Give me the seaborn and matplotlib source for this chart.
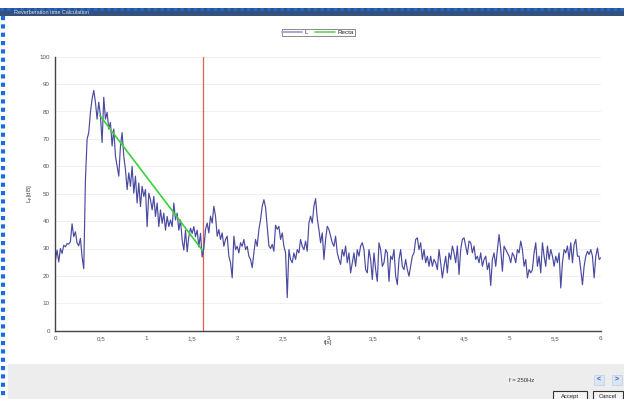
import numpy as np
import pandas as pd
import matplotlib
matplotlib.use("Agg")
import matplotlib.pyplot as plt
from matplotlib.patches import Rectangle
from matplotlib.lines import Line2D
from matplotlib.ticker import MultipleLocator, FuncFormatter
import seaborn as sns

sns.set_style("white")
plt.rcParams['font.family'] = ['Liberation Sans', 'DejaVu Sans']

# Level trace (dB), evenly spaced over 0..6 s
lp_onset = [25.7, 29.4, 25.1, 30, 28.2, 31.2, 30.6, 31.8, 31.6, 32.5,
            39, 34.3, 36.1, 32, 31, 33.7, 26.9, 22.6, 55, 69.9,
            72.3, 79.7, 84.6, 87.7, 83.4, 77.2, 83.4, 78.5, 68.7, 85.2,
            77.2, 79.7, 73.6, 76, 67.4, 73.6, 63.7, 60, 56.4, 67.4,
            72.3, 63.7, 58.8, 51.5, 57.6, 52.7, 60, 50.2, 56.4, 46.6,
            53.9, 45.3, 52.7, 49, 51.5, 38, 50.2, 47.8, 44.1, 49,
            41.7, 46.6, 38, 44.1, 39.2, 42.9, 36.7, 41.7, 38, 40.4,
            38, 46.6, 40.4, 42.9, 36.7, 40.4, 33.1, 29.4, 36.7, 28.8,
            34.3, 37.4, 35.5, 38, 34.3, 36.7, 30.6, 35.5, 26.9]
lp_mid = [30, 36.9, 39.3, 35.7, 41.8, 39.3, 45.4, 41.8, 34.5, 36.9,
          33.3, 35.7, 30.8, 33.3, 34.5, 27.2, 24.8, 19.3, 34.5, 29.6,
          30.8, 28.4, 32.1, 30.8, 33.3, 29.6, 30.8, 27.2, 26, 23,
          28.4, 33.3, 30.8, 36.9, 40.5, 45.4, 47.8, 45, 38, 31,
          30, 31.5, 29, 38.5, 37, 38.1, 33.3, 35.7, 30.8, 28.4,
          12.1, 29.6, 26, 24.8, 28.4, 26, 29.6, 28.4, 33.3, 30.8,
          29.6, 32.7, 29, 39.3, 41.8, 39.3, 45.4, 48.2, 41, 36.9,
          32.1, 35.7, 26, 33.3, 38.1, 36.9, 34.5, 32.1, 30.8, 34.5,
          28.4, 26, 24.2]
lp_tail1 = [29.6, 27.2, 30.9, 24.8, 28.4, 21.1, 24.8, 28.4, 23.5, 29.6,
            27.2, 30.9, 32.1, 29.6, 22.3, 21.1, 29.6, 26, 18.7, 28.4,
            22.3, 18, 32.1, 29.6, 23.5, 24.8, 29.6, 28.4, 18, 27.2,
            26, 29.6, 19.9, 16.8, 26, 29.6, 23.5, 22.3, 26, 22.3,
            19.9, 23.5, 27.2, 28.4, 33.3, 33.9, 29.6, 32.1, 26, 29.6,
            24.8, 27.2, 23.5, 27.2, 23.5, 26, 24.8, 22.3, 29.6, 24.8,
            19.3, 23.5, 27.2, 21.1, 28.4, 26, 30.9, 28.4, 24.8, 30.9,
            20.5, 29.6, 33.3, 33.9, 30.9, 27.8, 32.7, 32.1]
lp_tail2 = [28.4, 30.9, 26, 27.2, 24.8, 28.4, 23.5, 26, 27.2, 22.3,
            24.8, 16.5, 26, 28.4, 23.5, 29.6, 35.1, 29.6, 21.7, 30.9,
            29.6, 28.4, 27.2, 24.8, 28.4, 27.2, 24.8, 29.6, 28.4, 32.7,
            29.6, 23.5, 26, 19.3, 22.3, 21.1, 22.3, 28.4, 32.1, 23.5,
            27.2, 21.1, 32.1, 27.2, 23.5, 30.9, 26, 29.6, 27.2, 23.5,
            27.2, 24.8, 28.4, 15.6, 24.8, 29.6, 28.4, 30.9, 26, 32.1,
            24.8, 31.5, 33.3, 27.2, 27.2, 22.3, 16.8, 23.5, 27.2, 29,
            27.8, 29.6, 27.2, 19.3, 27.2, 30.2, 26, 26.6]
lp_db = lp_onset + lp_mid + lp_tail1 + lp_tail2
t_start, t_end = 0.0, 6.0

# Regression line ("Recta") and the cursor
recta_t = [0.49, 1.62]
recta_db = [78.5, 29.2]
cursor_t = 1.62

x_ticks = [0, 0.5, 1, 1.5, 2, 2.5, 3, 3.5, 4, 4.5, 5, 5.5, 6]
y_ticks = [0, 10, 20, 30, 40, 50, 60, 70, 80, 90, 100]

df = pd.DataFrame({'t': np.linspace(t_start, t_end, len(lp_db)), 'Lp': lp_db})
df_recta = pd.DataFrame({'t': recta_t, 'Lp': recta_db})

W, H = 624, 399
fig = plt.figure(figsize=(W / 100, H / 100), dpi=100)
fig.patch.set_facecolor('white')

def fx(px):
    return px / W

def fy(py):
    return 1 - py / H

ax = fig.add_axes([fx(55.4), fy(330.7), fx(600.8 - 55.4), (330.7 - 56.7) / H])

ax.axvline(cursor_t, color='#e0604f', lw=0.9, zorder=1)
sns.lineplot(data=df, x='t', y='Lp', ax=ax, color='#4a4aa0', lw=0.85, label='L', zorder=2)
sns.lineplot(data=df_recta, x='t', y='Lp', ax=ax, color='#3ccf3c', lw=1.2, label='Recta', zorder=3)

ax.set_xlim(0, 6)
ax.set_ylim(0, 100)
ax.set_xticks(x_ticks)
ax.set_yticks(y_ticks)
ax.xaxis.set_minor_locator(MultipleLocator(0.1))
ax.xaxis.set_major_formatter(FuncFormatter(lambda v, p: f'{v:g}'.replace('.', ',')))
ax.tick_params(axis='both', which='both', labelsize=4.5, colors='#333333',
               length=2.5, width=0.8, pad=1.5)
ax.tick_params(axis='x', which='both', direction='out', labelcolor='#555555')
ax.tick_params(axis='y', labelcolor='#555555')
ax.grid(axis='y', color='#eeeeee', lw=0.6)
for s in ['top', 'right']:
    ax.spines[s].set_visible(False)
for s in ['left', 'bottom']:
    ax.spines[s].set_color('#444444')
    ax.spines[s].set_linewidth(1.0)
ax.set_xlabel('t[s]', fontsize=4.5, color='#444444', labelpad=-1)
ax.set_ylabel('L$_\\mathregular{p}$[dB]', fontsize=4.5, color='#444444')
ax.yaxis.set_label_coords(-0.036, 0.5)
ax.get_legend().remove()

# Legend at the top
handles = [Line2D([], [], color='#a8a8dc', lw=1.5), Line2D([], [], color='#5cd65c', lw=1.2)]
leg = fig.legend(handles, ['L', 'Recta'], loc='center', bbox_to_anchor=(fx(318), fy(32.5)),
                 ncol=2, fontsize=4.5, frameon=True, fancybox=False, handlelength=3.2,
                 borderpad=0.15, columnspacing=1.0, handletextpad=0.4)
leg.get_frame().set_edgecolor('#555555')
leg.get_frame().set_linewidth(0.6)

# Window chrome: title bar, left border, bottom panel with buttons
fig.patches.append(Rectangle((fx(0), fy(16)), 1, 8 / H, transform=fig.transFigure,
                             facecolor='#34507c', edgecolor='none'))
fig.lines.append(Line2D([fx(0), 1], [fy(9), fy(9)], transform=fig.transFigure,
                        color='#1a6be0', lw=2, linestyle=(0, (1.2, 1.2))))
fig.text(fx(14), fy(12.5), 'Reverberation time Calculation', fontsize=4, color='#d8dde8',
         va='center', ha='left')
fig.lines.append(Line2D([fx(3), fx(3)], [fy(16), 0], transform=fig.transFigure,
                        color='#1a6be0', lw=3, linestyle=(0, (1.0, 1.0))))
fig.patches.append(Rectangle((fx(8), 0), 1, (H - 364) / H, transform=fig.transFigure,
                             facecolor='#ededed', edgecolor='none', zorder=0))
fig.text(fx(522), fy(380), 'f = 250Hz', fontsize=4.2, color='#333333', ha='center', va='center')
for bx, glyph in [(599, '<'), (617, '>')]:
    fig.patches.append(Rectangle((fx(bx - 5), fy(385)), 10 / W, 10 / H, transform=fig.transFigure,
                                 facecolor='#dbe6f5', edgecolor='#c0cde0', lw=0.5))
    fig.text(fx(bx), fy(380), glyph, fontsize=5, color='#3060b0', ha='center', va='center',
             fontweight='bold')
for x0, x1, txt in [(553, 587, 'Accept'), (593, 623, 'Cancel')]:
    fig.patches.append(Rectangle((fx(x0), fy(403)), (x1 - x0) / W, 12 / H,
                                 transform=fig.transFigure, facecolor='#f4f4f4',
                                 edgecolor='#333333', lw=0.8))
    fig.text(fx((x0 + x1) / 2), fy(396.5), txt, fontsize=4.2, color='#222222',
             ha='center', va='center')

fig.savefig('out.png', dpi=100)
